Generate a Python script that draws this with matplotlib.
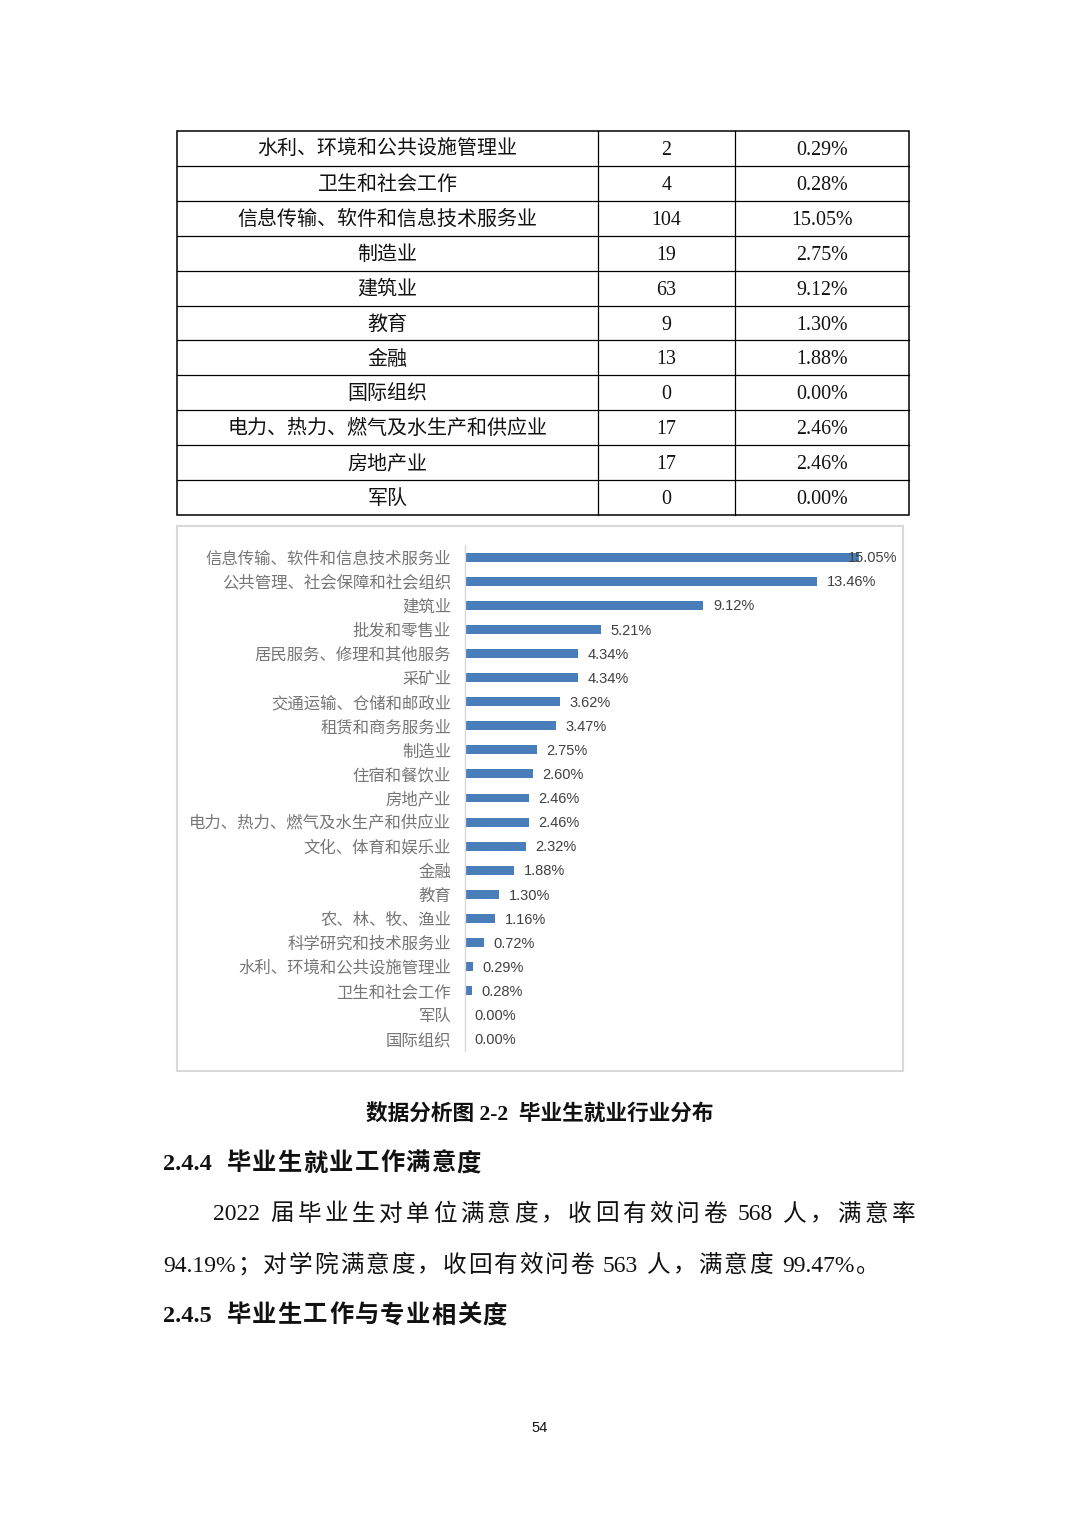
#!/usr/bin/env python
"""
	Report page: industry table, industry bar chart and satisfaction text.
"""

import re
import matplotlib
matplotlib.use('Agg')
import matplotlib.pyplot as plt
from matplotlib.patches import Rectangle

# Table rows (top of page)
table_names = ['水利、环境和公共设施管理业', '卫生和社会工作', '信息传输、软件和信息技术服务业',
               '制造业', '建筑业', '教育', '金融', '国际组织',
               '电力、热力、燃气及水生产和供应业', '房地产业', '军队']
table_counts = [2, 4, 104, 19, 63, 9, 13, 0, 17, 17, 0]
table_pcts = ['0.29%', '0.28%', '15.05%', '2.75%', '9.12%', '1.30%',
              '1.88%', '0.00%', '2.46%', '2.46%', '0.00%']

# Bar chart data
chart_cats = ['信息传输、软件和信息技术服务业', '公共管理、社会保障和社会组织', '建筑业',
              '批发和零售业', '居民服务、修理和其他服务', '采矿业', '交通运输、仓储和邮政业',
              '租赁和商务服务业', '制造业', '住宿和餐饮业', '房地产业',
              '电力、热力、燃气及水生产和供应业', '文化、体育和娱乐业', '金融', '教育',
              '农、林、牧、渔业', '科学研究和技术服务业', '水利、环境和公共设施管理业',
              '卫生和社会工作', '军队', '国际组织']
chart_vals = [15.05, 13.46, 9.12, 5.21, 4.34, 4.34, 3.62, 3.47, 2.75, 2.60, 2.46,
              2.46, 2.32, 1.88, 1.30, 1.16, 0.72, 0.29, 0.28, 0.00, 0.00]

# Text
caption = '数据分析图 2-2  毕业生就业行业分布'
heading1 = '2.4.4  毕业生就业工作满意度'
para_line1 = '2022 届毕业生对单位满意度，收回有效问卷 568 人，满意率'
para_line2 = '94.19%；对学院满意度，收回有效问卷 563 人，满意度 99.47%。'
heading2 = '2.4.5  毕业生工作与专业相关度'
page_no = '54'

SERIF_CJK = ['Liberation Serif', 'Noto Sans CJK SC']
SANS_CJK = ['Noto Sans CJK SC', 'DejaVu Sans']
plt.rcParams['font.family'] = SANS_CJK

W, H = 1080, 1527
fig = plt.figure(figsize=(W / 100.0, H / 100.0), dpi=100)
fig.patch.set_facecolor('white')
renderer = fig.canvas.get_renderer()

# Page axes in pixel units
page = fig.add_axes([0, 0, 1, 1])
page.set_xlim(0, W)
page.set_ylim(H, 0)
page.axis('off')


def draw_justified(ax, x0, x1, y, s, space_em=0.3, **kw):
	# split into ascii runs and single wide characters, then spread them from x0 to x1
	toks = [(m.group(), m.start()) for m in re.finditer(r'[A-Za-z0-9.%\-]+|\S', s)]
	objs, widths, spaced = [], [], []
	for tok, pos in toks:
		t = ax.text(0, y, tok, ha='left', va='center', **kw)
		objs.append(t)
		widths.append(t.get_window_extent(renderer).width)
		spaced.append(pos > 0 and s[pos - 1] == ' ')
	sp = space_em * kw.get('fontsize', 12) * 100 / 72.0
	base = sum(widths) + sp * sum(spaced)
	gap = (x1 - x0 - base) / max(len(objs) - 1, 1)
	x = x0
	for i, t in enumerate(objs):
		if i > 0:
			x += gap + (sp if spaced[i] else 0)
		t.set_x(x)
		x += widths[i]


# ---- Table ----
t_left, t_right = 177, 909
col1, col2 = 598, 735
t_top, t_bot = 131, 515
row_h = (t_bot - t_top) / float(len(table_names))
page.add_patch(Rectangle((t_left, t_top), t_right - t_left, t_bot - t_top,
                         fill=False, edgecolor='black', linewidth=1.1))
for x in (col1, col2):
	page.plot([x, x], [t_top, t_bot], color='black', linewidth=0.9)
for i in range(1, len(table_names)):
	y = t_top + i * row_h
	page.plot([t_left, t_right], [y, y], color='black', linewidth=0.9)
for i, (name, cnt, pct) in enumerate(zip(table_names, table_counts, table_pcts)):
	yc = t_top + (i + 0.5) * row_h + 2
	page.text((t_left + col1) / 2.0, yc, name, ha='center', va='center',
	          fontsize=14.4, family=SERIF_CJK, color='#111111')
	page.text((col1 + col2) / 2.0, yc, str(cnt), ha='center', va='center',
	          fontsize=14.4, family=SERIF_CJK, color='#111111')
	page.text((col2 + t_right) / 2.0, yc, pct, ha='center', va='center',
	          fontsize=14.4, family=SERIF_CJK, color='#111111')

# ---- Chart frame ----
page.add_patch(Rectangle((177, 526), 903 - 177, 1071 - 526, fill=False,
                         edgecolor='#d9d9d9', linewidth=1.5))

# ---- Bar chart ----
px_per_unit = 26.15
ax_l, ax_r = 465, 900
ax_t, ax_b = 545, 1051
ax = fig.add_axes([ax_l / float(W), 1 - ax_b / float(H),
                   (ax_r - ax_l) / float(W), (ax_b - ax_t) / float(H)])
ax.set_xlim(0, (ax_r - ax_l) / px_per_unit)
ax.set_ylim(len(chart_cats) - 0.5, -0.5)
ypos = list(range(len(chart_cats)))
ax.barh(ypos, chart_vals, height=0.37, color='#4a7ebb')
lim = (848 - ax_l) / px_per_unit
for y, v in zip(ypos, chart_vals):
	ax.text(min(v + 0.36, lim), y + 0.05, '%.2f%%' % v, ha='left', va='center',
	        fontsize=10.5, family='Liberation Sans', color='#404040')
ax.set_yticks(ypos)
ax.set_yticklabels(chart_cats, fontsize=11.8, color='#767676')
ax.tick_params(axis='y', length=0, pad=10)
ax.set_xticks([])
for s in ('top', 'right', 'bottom'):
	ax.spines[s].set_visible(False)
ax.spines['left'].set_color('#d9d9d9')
ax.spines['left'].set_linewidth(1.0)
ax.patch.set_alpha(0)

# ---- Caption and body text ----
page.text(540, 1115, caption, ha='center', va='center', fontsize=15.6,
          family=SERIF_CJK, weight='bold', color='#111111')
draw_justified(page, 163, 481, 1164, heading1, space_em=0.55, fontsize=17.5,
               family=SERIF_CJK, weight='bold', color='#111111')
draw_justified(page, 213, 915, 1215, para_line1, fontsize=17,
               family=SERIF_CJK, color='#111111')
draw_justified(page, 163, 880, 1266, para_line2, fontsize=17,
               family=SERIF_CJK, color='#111111')
draw_justified(page, 163, 507, 1316, heading2, space_em=0.55, fontsize=17.5,
               family=SERIF_CJK, weight='bold', color='#111111')
page.text(540, 1428, page_no, ha='center', va='center', fontsize=10.5,
          family='Liberation Sans', color='#111111')

fig.savefig('out.png', dpi=100, facecolor='white')
plt.close('all')
